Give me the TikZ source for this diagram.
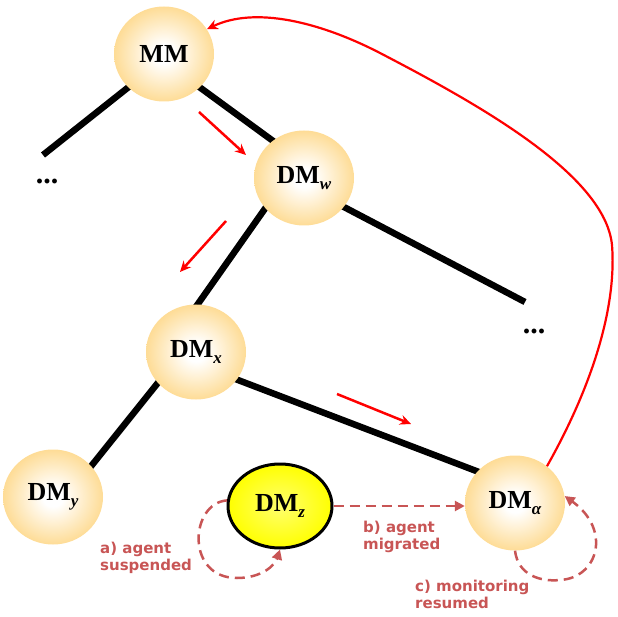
\documentclass[tikz,border=0pt]{standalone}
\usepackage{fontspec}
\setmainfont{Liberation Serif}
\newfontfamily\labelfont{DejaVu Sans}
\usetikzlibrary{shapes.geometric,arrows.meta,backgrounds}
\definecolor{balledge}{RGB}{251,196,98}
\definecolor{ballmid}{RGB}{254,220,150}
\definecolor{labred}{RGB}{200,85,85}
\definecolor{zcenter}{RGB}{255,255,110}
\definecolor{zedge}{RGB}{222,222,0}
\pgfdeclareradialshading{ballshade}{\pgfpoint{0bp}{0bp}}{color(0bp)=(white); color(5bp)=(white); color(25bp)=(ballmid); color(47bp)=(balledge); color(50bp)=(balledge)}
\pgfdeclareradialshading{zshade}{\pgfpoint{0bp}{0bp}}{color(0bp)=(zcenter); color(25bp)=(yellow); color(50bp)=(zedge)}
\newcommand\DMsub[1]{DM\raisebox{-6pt}{\fontsize{17}{17}\selectfont\itshape #1}}
\tikzset{
  ball/.style={ellipse, minimum width=100pt, minimum height=95pt, inner sep=0pt,
    shading=ballshade, font=\fontsize{26}{26}\selectfont\bfseries},
  zball/.style={ellipse, minimum width=104pt, minimum height=84pt, inner sep=0pt,
    draw=black, line width=3pt, shading=zshade, font=\fontsize{26}{26}\selectfont\bfseries},
  tree/.style={line width=6.5pt, black},
  redarr/.style={red, line width=2.5pt, -{Stealth[length=11pt,width=10pt]}},
  redcurve/.style={red, line width=2.2pt, -{Stealth[length=11pt,width=10pt]}},
  dasharr/.style={labred, line width=2.5pt, dash pattern=on 10pt off 6pt,
    -{Triangle[length=10pt,width=10pt]}},
  lab/.style={labred, font=\labelfont\bfseries\fontsize{15}{17.5}\selectfont,
    align=left, inner sep=0pt, anchor=north west},
  dots/.style={font=\fontsize{30}{30}\selectfont\bfseries, inner sep=0pt}
}
\begin{document}
\begin{tikzpicture}[x=1pt,y=-1pt]
\useasboundingbox (0,0) rectangle (618,617);
% nodes
\node[ball] (MM) at (164,54) {MM};
\node[ball] (DMw) at (304,178) {\DMsub{w}};
\node[ball] (DMx) at (196,352) {\DMsub{x}};
\node[ball] (DMy) at (53,497) {\DMsub{y}};
\node[zball] (DMz) at (280,506) {\DMsub{z}};
\node[ball] (DMa) at (515,503) {\DMsub{α}};
\node[dots] (dotsL) at (47,181) {...};
\node[dots] (dotsR) at (534,331) {...};
\coordinate (lend) at (43,155);
\coordinate (rend) at (525,302);
% tree lines
\begin{scope}[on background layer]
\draw[tree, shorten <=-6pt] (MM.223) -- (lend);
\draw[tree, shorten <=-6pt, shorten >=-6pt] (MM.317) -- (DMw.130);
\draw[tree, shorten <=-6pt, shorten >=-6pt] (DMw.218) -- (DMx.88);
\draw[tree, shorten <=-6pt] (DMw.324) -- (rend);
\draw[tree, shorten <=-6pt, shorten >=-6pt] (DMx.219) -- (DMy.39);
\draw[tree, shorten <=-6pt, shorten >=-6pt] (DMx.326) -- (DMa.140);
\end{scope}
% short red arrows
\coordinate (r1s) at (199,112); \coordinate (r1e) at (246,155);
\coordinate (r2s) at (226,221); \coordinate (r2e) at (180,272);
\coordinate (r3s) at (337,394); \coordinate (r3e) at (411,424);
\draw[redarr] (r1s) -- (r1e);
\draw[redarr] (r2s) -- (r2e);
\draw[redarr] (r3s) -- (r3e);
% long red curve
\draw[redcurve] (DMa.49) .. controls (590,390) and (617,310) .. (612,245)
  .. controls (605,175) and (480,105) .. (380,53)
  .. controls (320,22) and (255,6) .. (MM.30);
% dashed arrows
\draw[dasharr] (DMz.east) -- (DMz.east -| DMa.west);
\draw[dasharr] (DMz.174) .. controls (190,503) and (185,578) .. (237,578)
  .. controls (262,578) and (275,565) .. (DMz.south);
\draw[dasharr] (DMa.south) .. controls (518,575) and (540,582) .. (560,580)
  .. controls (598,578) and (612,530) .. (DMa.8);
% labels
\node[lab] (la) at (100,541.6) {a) agent\\suspended};
\node[lab] (lb) at (363,520.6) {b) agent\\migrated};
\node[lab] (lc) at (415,579.6) {c) monitoring\\resumed};
\end{tikzpicture}
\end{document}
